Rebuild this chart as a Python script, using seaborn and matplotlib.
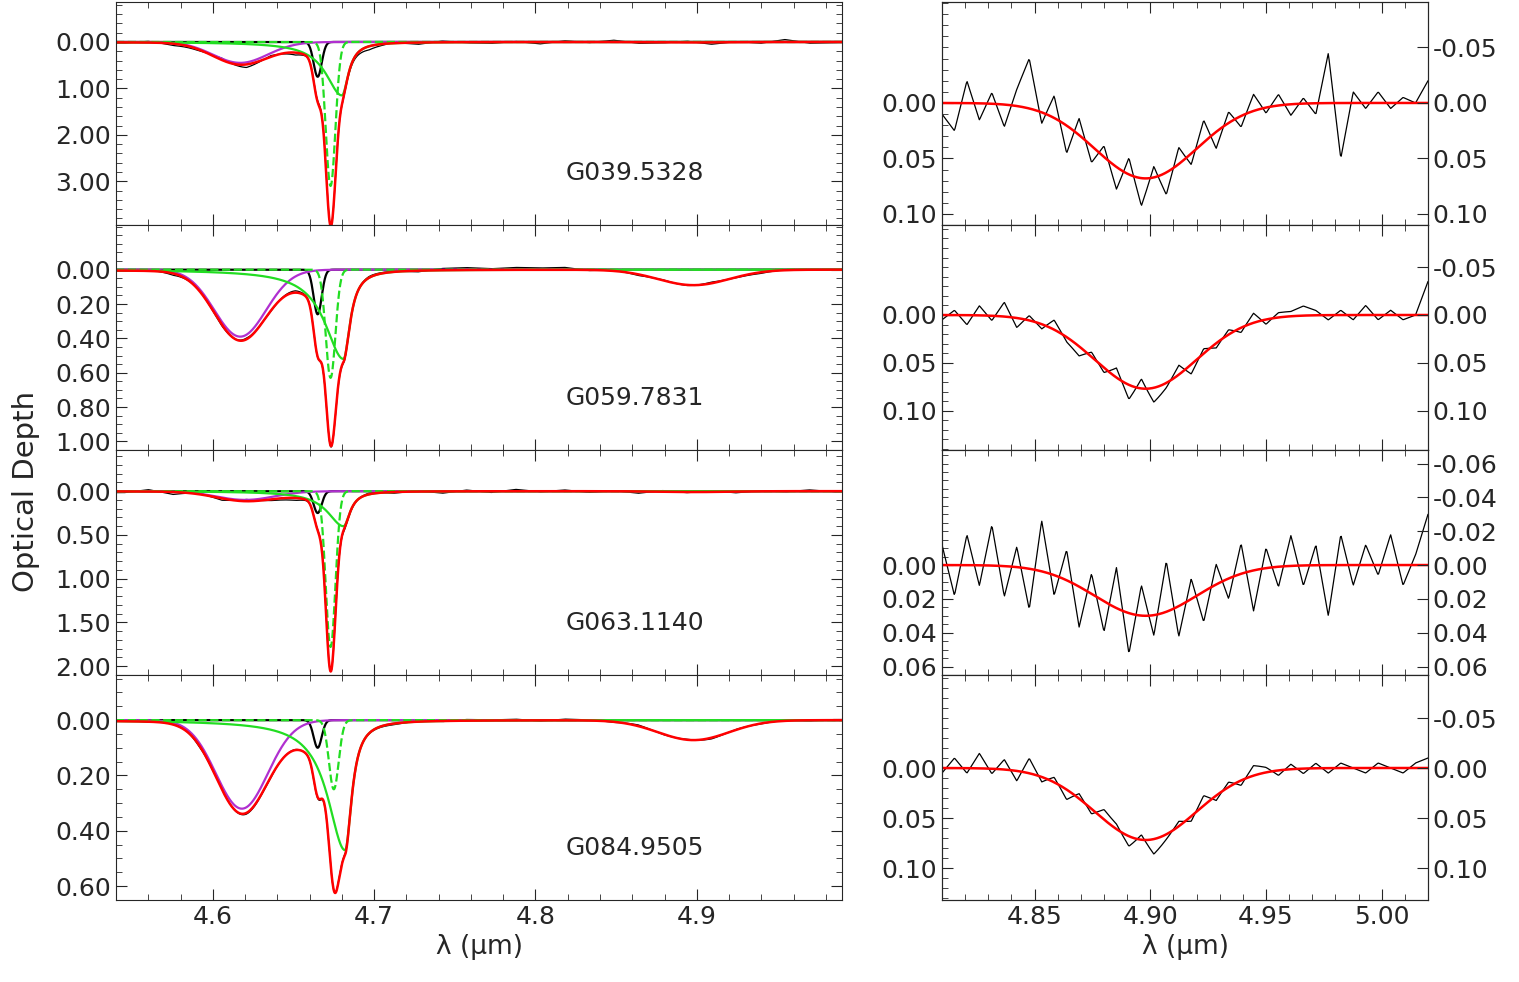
import numpy as np
import pandas as pd
import seaborn as sns
import matplotlib.pyplot as plt

sns.set_style("ticks")
plt.rcParams["font.family"] = "DejaVu Sans"
plt.rcParams["font.size"] = 18

names = ["G039.5328", "G059.7831", "G063.1140", "G084.9505"]

# fit components: (centre um, width um, depth)
purple = [(4.617, 0.017, 0.45), (4.617, 0.016, 0.39), (4.620, 0.018, 0.10), (4.618, 0.016, 0.32)]
black_cmp = [(4.665, 0.0025, 0.75), (4.665, 0.0025, 0.26), (4.665, 0.0025, 0.25), (4.665, 0.0025, 0.10)]
green_dash = [(4.673, 0.0030, 3.1), (4.673, 0.0030, 0.63), (4.673, 0.0030, 1.78), (4.675, 0.0030, 0.25)]
# green solid: centre, left width, right width, depth
green_sol = [(4.680, 0.012, 0.005, 1.15), (4.681, 0.014, 0.005, 0.52),
             (4.681, 0.012, 0.005, 0.40), (4.682, 0.013, 0.005, 0.47)]
feat490 = [(4.898, 0.022, 0.010), (4.898, 0.022, 0.09), (4.898, 0.022, 0.010), (4.898, 0.022, 0.072)]
right_depth = [0.068, 0.077, 0.030, 0.072]

left_ylim = [(3.94, -0.86), (1.05, -0.26), (2.10, -0.47), (0.65, -0.163)]
left_ticks = [[0, 1, 2, 3], [0, .2, .4, .6, .8, 1.0], [0, .5, 1, 1.5, 2], [0, .2, .4, .6]]
right_ylim = [(0.110, -0.091), (0.141, -0.094), (0.065, -0.068), (0.132, -0.093)]
right_lticks = [[0, .05, .10], [0, .05, .10], [0, .02, .04, .06], [0, .05, .10]]
right_rticks = [[-.05, 0, .05, .10], [-.05, 0, .05, .10],
                [-.06, -.04, -.02, 0, .02, .04, .06], [-.05, 0, .05, .10]]

# observed minus fit residuals, left panels
left_res = [
    [0.01, -0.02, 0.03, 0.02, -0.03, 0.05, -0.02, 0.04, -0.03, 0.02, 0.06, -0.01, 0.03, -0.02, 0.01,
     0.02, -0.01, 0.03, -0.02, 0.01, -0.03, 0.02, 0.01, -0.02, 0.03, -0.01, 0.02, -0.04, 0.02, 0.01],
    [0.01, -0.02, 0.03, -0.01, 0.02, -0.02, 0.01, -0.03, 0.01, 0.02, -0.02, -0.01, 0.02, -0.03, -0.04,
     -0.02, -0.04, -0.03, -0.04, 0.01, -0.01, 0.02, -0.01, 0.01, -0.02, 0.01, 0.02, -0.01, 0.01, 0.00],
    [0.02, -0.03, 0.04, -0.02, 0.03, -0.03, 0.02, 0.04, -0.02, 0.03, -0.02, 0.02, -0.01, 0.03, -0.02,
     0.02, -0.03, 0.01, -0.02, 0.02, -0.01, 0.03, -0.02, 0.01, -0.02, 0.02, -0.01, 0.01, -0.02, 0.01],
    [-0.02, 0.01, -0.03, 0.02, -0.01, 0.02, 0.01, -0.01, 0.02, -0.02, 0.01, 0.02, -0.01, 0.01, -0.02,
     -0.01, -0.02, 0.01, -0.02, -0.01, 0.01, -0.02, 0.01, -0.01, 0.02, -0.01, 0.01, -0.01, 0.01, -0.01],
]

# observed minus fit residuals, right panels
right_res = [
    [0.02, 0.05, -0.04, 0.03, -0.02, 0.04, -0.03, -0.09, 0.02, -0.04, 0.05, -0.03, 0.03, -0.02, 0.04,
     -0.03, 0.05, -0.02, 0.04, -0.03, 0.02, -0.04, 0.03, -0.02, 0.02, -0.03, 0.01, -0.02, 0.02, -0.01,
     0.02, -0.09, 0.10, -0.02, 0.01, -0.02, 0.01, -0.01, 0.00, -0.04],
    [0.01, -0.01, 0.02, -0.02, 0.01, -0.03, 0.02, -0.01, 0.01, -0.02, 0.01, 0.02, -0.01, 0.01, -0.02,
     0.03, -0.02, 0.03, 0.01, -0.02, 0.02, -0.01, 0.01, -0.01, 0.01, -0.02, 0.01, -0.01, -0.01, -0.02,
     -0.01, 0.01, -0.01, 0.01, -0.02, 0.01, -0.01, 0.01, 0.00, -0.07],
    [-0.02, 0.03, -0.03, 0.02, -0.04, 0.03, -0.02, 0.04, -0.05, 0.02, -0.03, 0.04, -0.02, 0.03, -0.04,
     0.04, -0.03, 0.02, -0.05, 0.03, -0.02, 0.03, -0.02, 0.02, -0.03, 0.04, -0.02, 0.02, -0.03, 0.02,
     -0.02, 0.05, -0.03, 0.02, -0.02, 0.01, -0.03, 0.02, -0.01, -0.05],
    [0.01, -0.02, 0.01, -0.03, 0.01, -0.02, 0.02, -0.03, 0.01, -0.01, 0.02, -0.01, 0.01, -0.02, -0.01,
     0.02, -0.01, 0.03, 0.01, -0.01, 0.01, -0.02, 0.01, -0.01, 0.01, -0.02, -0.01, 0.01, -0.01, 0.01,
     -0.01, 0.01, -0.01, 0.00, 0.01, -0.01, 0.00, 0.01, -0.01, -0.02],
]


def gauss(x, p):
    c, w, d = p
    return d * np.exp(-0.5 * ((x - c) / w) ** 2)


def lorentz(x, p):
    c, wl, wr, d = p
    w = np.where(x < c, wl, wr)
    return d / (1 + ((x - c) / w) ** 2)


def line(ax, x, y, color, lw=1.6, ls="-"):
    sns.lineplot(x=x, y=y, ax=ax, color=color, lw=lw, ls=ls, estimator=None, sort=False)


W, H = 1519, 982
fig = plt.figure(figsize=(W / 100, H / 100), dpi=100)
tops = [2, 225, 450, 675]


def pax(x0, x1, top, h):
    return fig.add_axes([x0 / W, 1 - (top + h) / H, (x1 - x0) / W, h / H])


xl = np.linspace(4.54, 4.99, 1500)
xr = np.linspace(4.81, 5.02, 600)
for i in range(4):
    h = 223 if i == 0 else 225
    ax = pax(116, 842, tops[i], h)
    pu, bk = gauss(xl, purple[i]), gauss(xl, black_cmp[i])
    gd, gs = gauss(xl, green_dash[i]), lorentz(xl, green_sol[i])
    fit = pu + bk + gd + gs + gauss(xl, feat490[i])
    res = left_res[i]
    xo = np.linspace(4.545, 4.985, len(res))
    obs = fit + np.interp(xl, xo, res) * (left_ylim[i][0] / 3)
    line(ax, xl, obs, "black", lw=0.9)
    line(ax, xl, bk, "black")
    line(ax, xl, pu, "#b030d0")
    line(ax, xl, gs, "#22dd22")
    line(ax, xl, gd, "#22dd22", ls="--")
    line(ax, xl, fit, "red", lw=1.8)
    ax.set_xlim(4.54, 4.99)
    ax.set_ylim(*left_ylim[i])
    ax.set_yticks(left_ticks[i])
    ax.set_yticklabels([f"{t:.2f}" for t in left_ticks[i]])
    ax.set_xticks([4.6, 4.7, 4.8, 4.9])
    ax.minorticks_on()
    ax.tick_params(which="both", direction="in", top=True, right=True, length=8)
    ax.tick_params(which="minor", length=4)
    ax.text(0.62, 0.20, names[i], transform=ax.transAxes, fontsize=18)
    if i < 3:
        ax.set_xticklabels([])
    else:
        ax.set_xlabel("λ (μm)", fontsize=19)
    ax.set_ylabel("")

    ar = pax(942, 1428, tops[i], h)
    rf = gauss(xr, (4.898, 0.022, right_depth[i]))
    rr = right_res[i]
    xo = np.linspace(4.81, 5.02, len(rr))
    scale = 0.5 if i != 2 else 0.6
    robs = rf + np.interp(xr, xo, rr) * scale
    line(ar, xr, robs, "black", lw=0.9)
    line(ar, xr, rf, "red", lw=1.8)
    ar.set_xlim(4.81, 5.02)
    ar.set_ylim(*right_ylim[i])
    ar.set_yticks(right_lticks[i])
    ar.set_yticklabels([f"{t:.2f}" for t in right_lticks[i]])
    ar.set_xticks([4.85, 4.90, 4.95, 5.00])
    ar.minorticks_on()
    ar.tick_params(which="both", direction="in", top=True, right=True, length=8)
    ar.tick_params(which="minor", length=4)
    ar.set_ylabel("")
    tw = ar.twinx()
    tw.set_ylim(*right_ylim[i])
    tw.set_yticks(right_rticks[i])
    tw.set_yticklabels([f"{t:.2f}" for t in right_rticks[i]])
    tw.tick_params(direction="in", length=8)
    if i < 3:
        ar.set_xticklabels([])
    else:
        ar.set_xticklabels([f"{t:.2f}" for t in [4.85, 4.90, 4.95, 5.00]])
        ar.set_xlabel("λ (μm)", fontsize=19)

fig.text(0.008, 0.5, "Optical Depth", rotation=90, va="center", fontsize=21)
fig.savefig("out.png", dpi=100)
